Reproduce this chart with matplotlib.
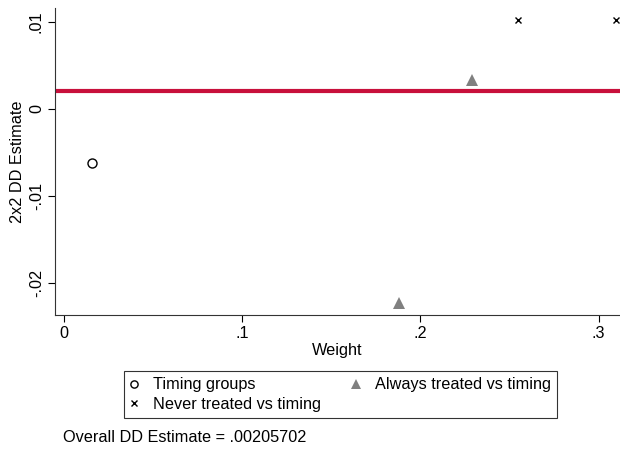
import numpy as np
import matplotlib.pyplot as plt

plt.rcParams['font.family'] = ['Liberation Sans', 'DejaVu Sans']

# data
timing_w = [0.0157]
timing_est = [-0.0062]
always_w = [0.188, 0.229]
always_est = [-0.0223, 0.0033]
never_w = [0.2545, 0.3096]
never_est = [0.0102, 0.0102]
overall = 0.00205702

xticks = [0, 0.1, 0.2, 0.3]
xtick_labels = ['0', '.1', '.2', '.3']
yticks = [-0.02, -0.01, 0, 0.01]
ytick_labels = ['-.02', '-.01', '0', '.01']

fs = 11.7

fig = plt.figure(figsize=(6.2, 4.51), dpi=100)
ax = fig.add_axes([55/620, 1-315/451, 565/620, 307/451])

h1, = ax.plot(timing_w, timing_est, 'o', mfc='none', mec='black', ms=6.5, mew=1)
h2, = ax.plot(always_w, always_est, '^', color='#808080', ms=9, mew=0)
h3, = ax.plot(never_w, never_est, 'x', color='black', ms=5, mew=1)
ax.axhline(overall, color='#C8103C', lw=3)

ax.set_xlim(-0.005, 0.312)
ax.set_ylim(-0.0237, 0.0116)
ax.set_xticks(xticks)
ax.set_xticklabels(xtick_labels)
ax.set_yticks(yticks)
ax.set_yticklabels(ytick_labels, rotation=90, va='center')
ax.tick_params(labelsize=fs, length=5, color='black', pad=3)
ax.spines['top'].set_visible(False)
ax.spines['right'].set_visible(False)
ax.spines['left'].set_color('#333333')
ax.spines['bottom'].set_color('#333333')
ax.set_xlabel('Weight', fontsize=fs, labelpad=1)
ax.set_ylabel('2x2 DD Estimate', fontsize=fs, labelpad=3)

leg = fig.legend([h1, h3, h2],
                 ['Timing groups', 'Never treated vs timing', 'Always treated vs timing'],
                 ncol=2, loc='center', bbox_to_anchor=(340.5/620, 1-394.5/451),
                 frameon=True, fancybox=False, fontsize=fs, handlelength=0.5,
                 handletextpad=0.9, columnspacing=1.9, borderpad=0.4,
                 labelspacing=0.25, markerscale=0.8)
leg.get_frame().set_edgecolor('black')
leg.get_frame().set_linewidth(0.8)

fig.text(63/620, 1-437/451, 'Overall DD Estimate = .00205702', fontsize=fs,
         va='center', ha='left')

fig.savefig('out.png', dpi=100)
